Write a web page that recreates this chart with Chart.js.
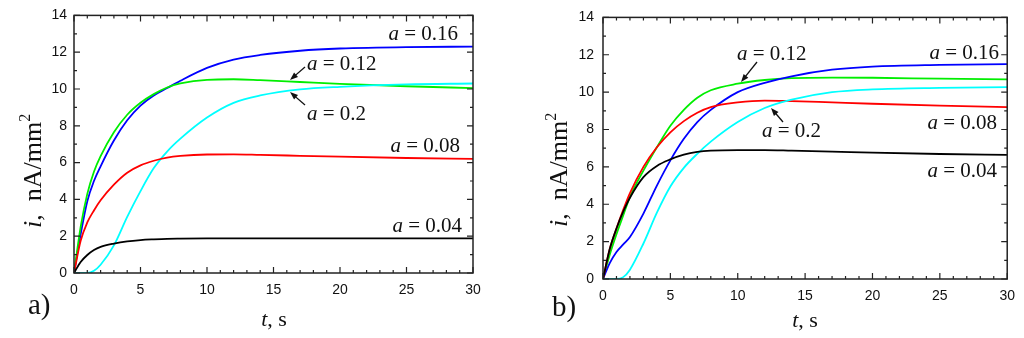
<!DOCTYPE html>
<html>
<head>
<meta charset="utf-8">
<script src="https://cdn.jsdelivr.net/npm/chart.js@4"></script>
<style>
    html, body { margin: 0; padding: 0; background: #fff; }
    #wrap { position: relative; width: 1024px; height: 338px; overflow: hidden; }
    canvas { position: absolute; top: 0; }
    #chartA { left: 0; }
    #chartB { left: 512px; }
</style>
</head>
<body>
<div id="wrap">
    <canvas id="chartA" width="512" height="338"></canvas>
    <canvas id="chartB" width="512" height="338"></canvas>
</div>
<script>
// ======================================================
// Donnees
// ======================================================

const time = [0, 0.5, 1, 1.5, 2, 3, 4, 5, 6, 7, 8, 10, 12, 14, 17, 20, 25, 30];

const xTicks = [0, 5, 10, 15, 20, 25, 30];
const yTicks = [0, 2, 4, 6, 8, 10, 12, 14];

// panneau a)
const a004 = [0, 0.6, 0.98, 1.25, 1.42, 1.6, 1.72, 1.79, 1.83, 1.86, 1.87, 1.88, 1.88, 1.88, 1.88, 1.88, 1.88, 1.88];
const a008 = [0, 1.75, 2.75, 3.4, 3.95, 4.8, 5.45, 5.85, 6.1, 6.27, 6.36, 6.44, 6.45, 6.42, 6.37, 6.32, 6.25, 6.2];
const a012 = [0, 2.5, 4.3, 5.5, 6.35, 7.65, 8.6, 9.25, 9.72, 10.08, 10.3, 10.5, 10.53, 10.48, 10.38, 10.28, 10.15, 10.05];
const a016 = [0, 2.1, 3.9, 5.0, 5.8, 7.2, 8.3, 9.1, 9.65, 10.05, 10.45, 11.15, 11.6, 11.85, 12.08, 12.2, 12.28, 12.3];
const a020 = [0, 0, 0, 0.12, 0.45, 1.5, 3.05, 4.45, 5.7, 6.6, 7.3, 8.45, 9.25, 9.65, 9.98, 10.12, 10.25, 10.3];

// panneau b)
const b004 = [0, 1.6, 2.7, 3.6, 4.35, 5.45, 6.05, 6.4, 6.65, 6.8, 6.87, 6.9, 6.9, 6.87, 6.82, 6.76, 6.69, 6.64];
const b008 = [0, 1.6, 2.7, 3.7, 4.6, 6.0, 7.05, 7.85, 8.45, 8.9, 9.2, 9.45, 9.55, 9.52, 9.45, 9.38, 9.28, 9.2];
const b012 = [0, 1.3, 2.4, 3.4, 4.4, 5.8, 7.05, 8.2, 9.05, 9.7, 10.1, 10.45, 10.65, 10.75, 10.78, 10.77, 10.72, 10.68];
const b016 = [0, 0.85, 1.45, 1.85, 2.25, 3.5, 5.0, 6.35, 7.5, 8.4, 9.05, 10.0, 10.5, 10.85, 11.2, 11.37, 11.46, 11.5];
const b020 = [0, 0, 0, 0.1, 0.5, 1.9, 3.55, 4.95, 5.95, 6.7, 7.35, 8.4, 9.15, 9.6, 10.0, 10.15, 10.23, 10.27];

const serif = "'Liberation Serif', 'Times New Roman', serif";
const sans = "'Liberation Sans', Arial, sans-serif";

//-----------------------------------------------------
// Cadre + graduations vers l'interieur
//-----------------------------------------------------

const framePlugin = {
    id: "frame",
    afterDraw(chart) {
        const ctx = chart.ctx;
        const a = chart.chartArea;
        const sx = chart.scales.x;
        const sy = chart.scales.y;

        ctx.save();
        ctx.strokeStyle = "#222";
        ctx.lineWidth = 1.5;
        ctx.strokeRect(a.left, a.top, a.right - a.left, a.bottom - a.top);

        ctx.lineWidth = 1.2;
        ctx.beginPath();
        for (let v = 0; v <= 30; v++) {
            const px = sx.getPixelForValue(v);
            const len = v % 5 === 0 ? 6 : 3;
            ctx.moveTo(px, a.bottom); ctx.lineTo(px, a.bottom - len);
            ctx.moveTo(px, a.top); ctx.lineTo(px, a.top + len);
        }
        for (let v = 0; v <= 14; v++) {
            const py = sy.getPixelForValue(v);
            const len = v % 2 === 0 ? 6 : 3;
            ctx.moveTo(a.left, py); ctx.lineTo(a.left + len, py);
            ctx.moveTo(a.right, py); ctx.lineTo(a.right - len, py);
        }
        ctx.stroke();
        ctx.restore();
    }
};

function drawRuns(ctx, runs, x, y, align) {
    let total = 0;
    runs.forEach(r => { ctx.font = r[1]; total += ctx.measureText(r[0]).width; });
    let cx = align === "right" ? x - total : align === "center" ? x - total / 2 : x;
    runs.forEach(r => {
        ctx.font = r[1];
        ctx.fillText(r[0], cx, y + (r[2] || 0));
        cx += ctx.measureText(r[0]).width;
    });
}

function drawArrow(ctx, x1, y1, x2, y2) {
    const ang = Math.atan2(y2 - y1, x2 - x1);
    ctx.beginPath();
    ctx.moveTo(x1, y1);
    ctx.lineTo(x2 - 4 * Math.cos(ang), y2 - 4 * Math.sin(ang));
    ctx.stroke();
    ctx.beginPath();
    ctx.moveTo(x2, y2);
    ctx.lineTo(x2 - 8 * Math.cos(ang) + 3 * Math.sin(ang), y2 - 8 * Math.sin(ang) - 3 * Math.cos(ang));
    ctx.lineTo(x2 - 8 * Math.cos(ang) - 3 * Math.sin(ang), y2 - 8 * Math.sin(ang) + 3 * Math.cos(ang));
    ctx.closePath();
    ctx.fill();
}

function textPlugin(box) {
    return {
        id: "texts",
        afterDraw(chart) {
            const ctx = chart.ctx;
            ctx.save();
            ctx.fillStyle = "#111";
            ctx.strokeStyle = "#111";
            ctx.lineWidth = 1.3;
            ctx.textBaseline = "alphabetic";

            box.notes.forEach(n => {
                drawRuns(ctx, [
                    ["a", "italic 21px " + serif],
                    [" = " + n.text, "21px " + serif]
                ], n.x, n.y, n.align);
                if (n.arrow)
                    drawArrow(ctx, n.arrow[0], n.arrow[1], n.arrow[2], n.arrow[3]);
            });

            // titre axe y
            ctx.save();
            ctx.translate(box.yTitle[0], box.yTitle[1]);
            ctx.rotate(-Math.PI / 2);
            drawRuns(ctx, [
                ["i", "italic 26px " + serif],
                [",  nA/mm", "26px " + serif],
                ["2", "16px " + serif, -11]
            ], 0, 0, "left");
            ctx.restore();

            // titre axe x
            drawRuns(ctx, [
                ["t", "italic 22px " + serif],
                [", s", "22px " + serif]
            ], box.xTitle[0], box.xTitle[1], "center");

            ctx.font = "29px " + serif;
            ctx.fillText(box.letter, box.letterPos[0], box.letterPos[1]);
            ctx.restore();
        }
    };
}

//-----------------------------------------------------
// Graphique
//-----------------------------------------------------

function makeChart(id, series, box) {

    const tickFont = { family: sans, size: 14 };

    return new Chart(document.getElementById(id), {
        type: "line",
        data: {
            datasets: series.map(s => ({
                data: time.map((t, i) => ({ x: t, y: s.values[i] })),
                borderColor: s.color,
                borderWidth: 1.8,
                pointRadius: 0,
                fill: false,
                cubicInterpolationMode: "monotone"
            }))
        },
        options: {
            responsive: false,
            animation: false,
            layout: { padding: { left: 0, right: box.padRight, top: box.padTop, bottom: 0 } },
            plugins: { legend: { display: false }, tooltip: { enabled: false } },
            scales: {
                x: {
                    type: "linear", min: 0, max: 30,
                    grid: { display: false, drawTicks: false },
                    border: { display: false },
                    afterBuildTicks: s => { s.ticks = xTicks.map(v => ({ value: v })); },
                    afterFit: s => { s.height = box.xHeight; },
                    ticks: { padding: 9, font: tickFont, color: "#111", autoSkip: false, maxRotation: 0 }
                },
                y: {
                    type: "linear", min: 0, max: 14,
                    grid: { display: false, drawTicks: false },
                    border: { display: false },
                    afterBuildTicks: s => { s.ticks = yTicks.map(v => ({ value: v })); },
                    afterFit: s => { s.width = box.yWidth; },
                    ticks: { padding: box.yPad, font: tickFont, color: "#111", autoSkip: false }
                }
            }
        },
        plugins: [framePlugin, textPlugin(box)]
    });
}

makeChart("chartA", [
    { values: a004, color: "#000000" },
    { values: a008, color: "#ff0000" },
    { values: a020, color: "#00ffff" },
    { values: a012, color: "#00ee00" },
    { values: a016, color: "#0000ff" }
], {
    padRight: 39, padTop: 14, yWidth: 74, xHeight: 65, yPad: 7,
    yTitle: [41, 228], xTitle: [274, 326], letter: "a)", letterPos: [28, 314],
    notes: [
        { text: "0.16", x: 458, y: 40, align: "right" },
        { text: "0.12", x: 307, y: 70, align: "left", arrow: [305, 67, 290, 80] },
        { text: "0.2", x: 307, y: 120, align: "left", arrow: [305, 105, 290, 92] },
        { text: "0.08", x: 460, y: 152, align: "right" },
        { text: "0.04", x: 462, y: 232, align: "right" }
    ]
});

makeChart("chartB", [
    { values: b004, color: "#000000" },
    { values: b020, color: "#00ffff" },
    { values: b008, color: "#ff0000" },
    { values: b016, color: "#0000ff" },
    { values: b012, color: "#00ee00" }
], {
    padRight: 16, padTop: 16, yWidth: 91, xHeight: 59, yPad: 9,
    yTitle: [55, 227], xTitle: [293, 327], letter: "b)", letterPos: [40, 316],
    notes: [
        { text: "0.12", x: 225, y: 60, align: "left", arrow: [245, 62, 229, 82] },
        { text: "0.16", x: 487, y: 59, align: "right" },
        { text: "0.2", x: 250, y: 137, align: "left", arrow: [271, 122, 259, 108] },
        { text: "0.08", x: 485, y: 129, align: "right" },
        { text: "0.04", x: 485, y: 177, align: "right" }
    ]
});
</script>
</body>
</html>
